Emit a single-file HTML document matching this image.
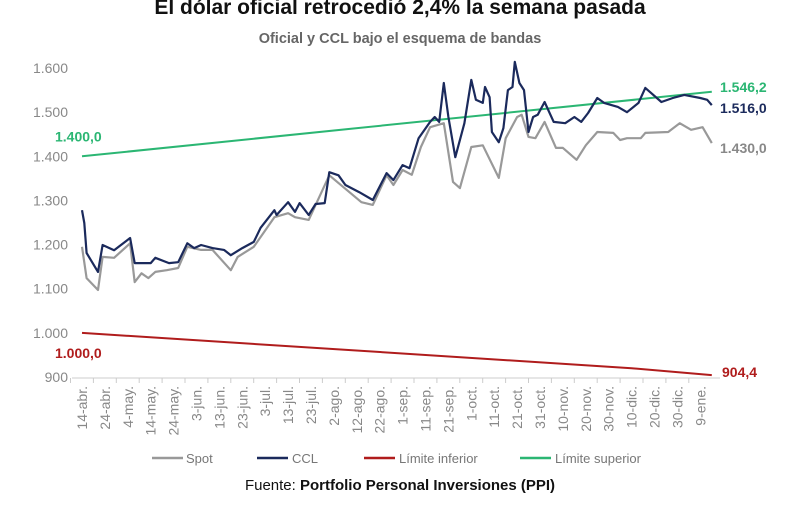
<!DOCTYPE html>
<html><head><meta charset="utf-8">
<style>
body{margin:0;background:#fff;width:800px;height:525px;overflow:hidden;font-family:"Liberation Sans",sans-serif}
svg{display:block}
</style></head>
<body>
<svg width="800" height="525" id="chart">
<text x="400" y="14" text-anchor="middle" font-size="21" font-weight="bold" fill="#111">El dólar oficial retrocedió 2,4% la semana pasada</text>
<text x="400" y="43" text-anchor="middle" font-size="14.5" font-weight="bold" fill="#666">Oficial y CCL bajo el esquema de bandas</text>
<g id="yaxis"></g>
<g id="xaxis"></g>
<g id="series"></g>
<g id="labels"></g>
<g font-size="13" fill="#777">
<g><line x1="152" y1="458" x2="183" y2="458" stroke="#999" stroke-width="2.5"/><text x="186" y="463">Spot</text></g>
<g><line x1="257" y1="458" x2="288" y2="458" stroke="#1b2a5c" stroke-width="2.5"/><text x="292" y="463">CCL</text></g>
<g><line x1="364" y1="458" x2="395" y2="458" stroke="#b01c1c" stroke-width="2.5"/><text x="399" y="463">Límite inferior</text></g>
<g><line x1="520" y1="458" x2="551" y2="458" stroke="#2bb673" stroke-width="2.5"/><text x="555" y="463">Límite superior</text></g>
</g>
<text x="400" y="490" text-anchor="middle" font-size="15" fill="#111">Fuente: <tspan font-weight="bold">Portfolio Personal Inversiones (PPI)</tspan></text>
</svg>
<script>
const yTicks=[900,1000,1100,1200,1300,1400,1500,1600];
const yTickLabels=["900","1.000","1.100","1.200","1.300","1.400","1.500","1.600"];
const xTickLabels=["14-abr.","24-abr.","4-may.","14-may.","24-may.","3-jun.","13-jun.","23-jun.","3-jul.","13-jul.","23-jul.","2-ago.","12-ago.","22-ago.","1-sep.","11-sep.","21-sep.","1-oct.","11-oct.","21-oct.","31-oct.","10-nov.","20-nov.","30-nov.","10-dic.","20-dic.","30-dic.","9-ene."];
const xTickDays=[0,10,20,30,40,50,60,70,80,90,100,110,120,130,140,150,160,170,180,190,200,210,220,230,240,250,260,270];
const cclDays=[0,1,2,7,9,14,21,23,30,32,38,42,46,49,52,57,62,65,70,75,78,84,85,90,93,95,99,102,106,108,112,115,121,127,133,136,140,143,147,152,154,156,158,160,163,167,170,172,175,176,178,179,182,184,186,188,189,191,193,195,197,199,202,206,211,215,218,221,225,228,234,238,243,246,248,253,258,263,270,273,275];
const cclValues=[1278,1249,1181,1138,1199,1187,1215,1158,1158,1170,1158,1160,1203,1192,1199,1192,1188,1176,1192,1206,1238,1278,1267,1296,1274,1294,1267,1292,1294,1364,1357,1335,1319,1301,1362,1346,1380,1373,1441,1478,1489,1478,1566,1489,1398,1475,1573,1528,1521,1557,1534,1455,1432,1464,1550,1557,1614,1566,1550,1455,1489,1494,1523,1478,1475,1489,1478,1498,1532,1521,1512,1500,1521,1555,1546,1523,1532,1539,1532,1528,1516];
const spotDays=[0,2,7,9,14,21,23,26,29,32,37,42,46,52,57,65,68,75,84,90,93,99,108,122,127,133,136,140,144,148,152,158,162,165,170,175,182,185,190,192,195,198,202,207,210,216,220,225,232,235,238,244,246,256,261,266,271,275];
const spotValues=[1195,1124,1097,1172,1170,1203,1115,1135,1124,1138,1142,1147,1195,1188,1188,1142,1172,1195,1262,1271,1262,1256,1357,1296,1290,1357,1335,1369,1358,1421,1466,1475,1342,1328,1421,1425,1351,1441,1489,1494,1444,1441,1478,1419,1419,1392,1425,1455,1453,1437,1441,1441,1453,1455,1475,1460,1466,1430];
const upperDays=[0,275];
const upperValues=[1400,1546.2];
const lowerDays=[0,240,275];
const lowerValues=[1000,920,904.4];
const endLabels=["1.546,2","1.516,0","1.430,0","904,4"];
const startLabels=["1.400,0","1.000,0"];

const NS="http://www.w3.org/2000/svg";
const X=d=>82+d*2.29;
const Y=v=>377-(v-900)*0.4414;
function el(tag,attrs,parent,txt){const e=document.createElementNS(NS,tag);for(const k in attrs)e.setAttribute(k,attrs[k]);if(txt!==undefined)e.textContent=txt;parent.appendChild(e);return e;}
const ya=document.getElementById('yaxis');
yTicks.forEach((t,i)=>{const e=el('text',{x:68,y:Y(t)+5,'text-anchor':'end','font-size':14,fill:'#888'},ya,yTickLabels[i]);

});
const xa=document.getElementById('xaxis');
const ax=el('line',{x1:72,x2:720,y1:378,y2:378,stroke:'#ccc','stroke-width':1},xa);


xTickDays.forEach((d,i)=>{const x=X(d);
const tk=el('line',{x1:x-11.5,x2:x-11.5,y1:378,y2:383,stroke:'#ccc'},xa);


const t=el('text',{transform:`translate(${x+5},386) rotate(-90)`,'text-anchor':'end','font-size':14,fill:'#888'},xa,xTickLabels[i]);

});
const sg=document.getElementById('series');
function line(days,vals,color,name,w){const p=el('polyline',{points:days.map((d,i)=>X(d).toFixed(1)+','+Y(vals[i]).toFixed(1)).join(' '),fill:'none',stroke:color,'stroke-width':w,'stroke-linejoin':'round'},sg);

}
line(lowerDays,lowerValues,'#b01c1c','line-limite-inferior',2);
line(upperDays,upperValues,'#2bb673','line-limite-superior',2);
line(spotDays,spotValues,'#999','line-spot',2.2);
line(cclDays,cclValues,'#1b2a5c','line-ccl',2.2);
const lg=document.getElementById('labels');
function lab(x,y,txt,color,name,anchor){const e=el('text',{x:x,y:y,'font-size':14,'font-weight':'bold',fill:color,'text-anchor':anchor||'start'},lg,txt);

}
lab(720,Y(upperValues[1])+0,endLabels[0],'#2bb673','label-upper-end');
lab(720,Y(cclValues[cclValues.length-1])+8,endLabels[1],'#1b2a5c','label-ccl-end');
lab(720,Y(spotValues[spotValues.length-1])+10,endLabels[2],'#888','label-spot-end');
lab(722,Y(lowerValues[lowerValues.length-1])+2,endLabels[3],'#b01c1c','label-lower-end');
lab(55,Y(upperValues[0])-15,startLabels[0],'#2bb673','label-upper-start');
lab(55,Y(lowerValues[0])+25,startLabels[1],'#b01c1c','label-lower-start');
</script>
</body></html>
